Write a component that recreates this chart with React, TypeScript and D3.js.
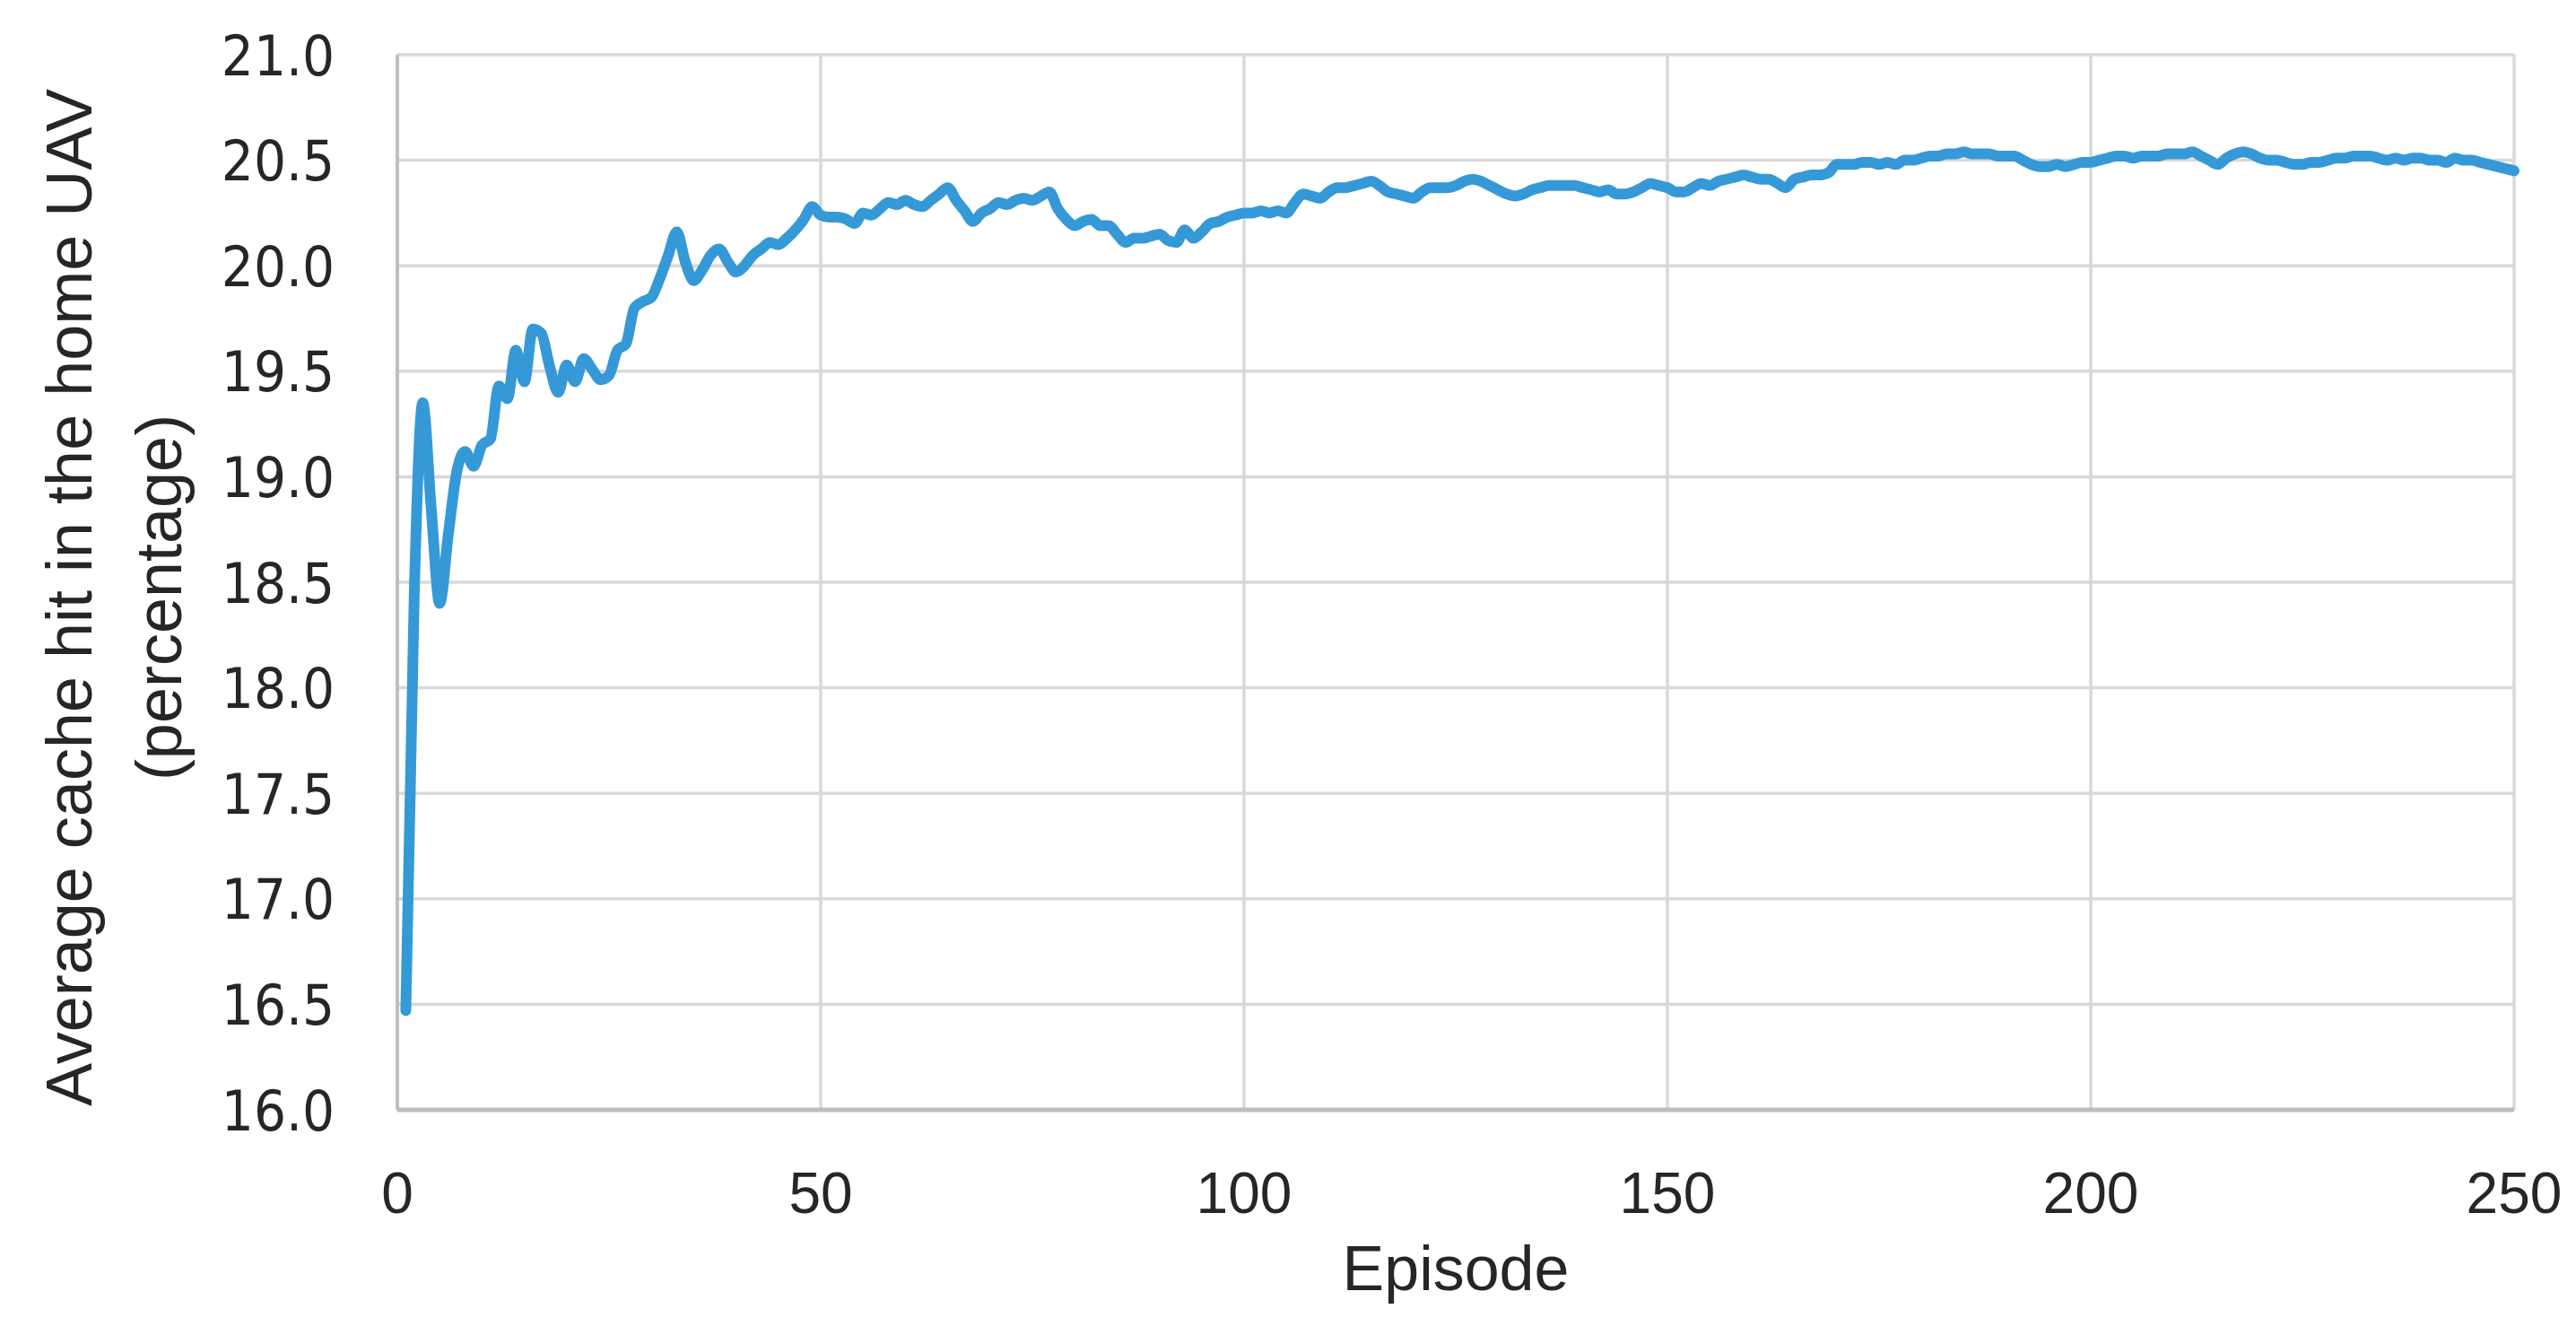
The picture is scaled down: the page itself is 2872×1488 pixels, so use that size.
import React from "react";
import * as d3 from "d3";

const episodes: number[] = Array.from({ length: 250 }, (_, i) => i + 1);

const cacheHit: number[] = [
  16.47, 18.45, 19.35, 18.85, 18.40, 18.72, 19.02, 19.12, 19.05, 19.15,
  19.18, 19.43, 19.37, 19.60, 19.45, 19.70, 19.68, 19.52, 19.40, 19.53,
  19.45, 19.56, 19.51, 19.46, 19.48, 19.60, 19.63, 19.80, 19.83, 19.85,
  19.94, 20.05, 20.16, 20.02, 19.93, 19.98, 20.05, 20.08, 20.02, 19.97,
  20.00, 20.05, 20.08, 20.11, 20.10, 20.13, 20.17, 20.22, 20.28, 20.24,
  20.23, 20.23, 20.22, 20.20, 20.25, 20.24, 20.27, 20.30, 20.29, 20.31,
  20.29, 20.28, 20.31, 20.34, 20.37, 20.31, 20.26, 20.21, 20.25, 20.27,
  20.30, 20.29, 20.31, 20.32, 20.31, 20.33, 20.35, 20.27, 20.22, 20.19,
  20.21, 20.22, 20.19, 20.19, 20.15, 20.11, 20.13, 20.13, 20.14, 20.15,
  20.12, 20.11, 20.17, 20.13, 20.16, 20.20, 20.21, 20.23, 20.24, 20.25,
  20.25, 20.26, 20.25, 20.26, 20.25, 20.30, 20.34, 20.33, 20.32, 20.35,
  20.37, 20.37, 20.38, 20.39, 20.40, 20.38, 20.35, 20.34, 20.33, 20.32,
  20.35, 20.37, 20.37, 20.37, 20.38, 20.40, 20.41, 20.40, 20.38, 20.36,
  20.34, 20.33, 20.34, 20.36, 20.37, 20.38, 20.38, 20.38, 20.38, 20.37,
  20.36, 20.35, 20.36, 20.34, 20.34, 20.35, 20.37, 20.39, 20.38, 20.37,
  20.35, 20.35, 20.37, 20.39, 20.38, 20.40, 20.41, 20.42, 20.43, 20.42,
  20.41, 20.41, 20.39, 20.37, 20.41, 20.42, 20.43, 20.43, 20.44, 20.48,
  20.48, 20.48, 20.49, 20.49, 20.48, 20.49, 20.48, 20.50, 20.50, 20.51,
  20.52, 20.52, 20.53, 20.53, 20.54, 20.53, 20.53, 20.53, 20.52, 20.52,
  20.52, 20.50, 20.48, 20.47, 20.47, 20.48, 20.47, 20.48, 20.49, 20.49,
  20.50, 20.51, 20.52, 20.52, 20.51, 20.52, 20.52, 20.52, 20.53, 20.53,
  20.53, 20.54, 20.52, 20.50, 20.48, 20.51, 20.53, 20.54, 20.53, 20.51,
  20.50, 20.50, 20.49, 20.48, 20.48, 20.49, 20.49, 20.50, 20.51, 20.51,
  20.52, 20.52, 20.52, 20.51, 20.50, 20.51, 20.50, 20.51, 20.51, 20.50,
  20.50, 20.49, 20.51, 20.50, 20.50, 20.49, 20.48, 20.47, 20.46, 20.45,
];

const xTicks: number[] = [0, 50, 100, 150, 200, 250];
const yTicks: number[] = [16.0, 16.5, 17.0, 17.5, 18.0, 18.5, 19.0, 19.5, 20.0, 20.5, 21.0];

const xTitle = "Episode";
const yTitleLine1 = "Average cache hit in the home UAV";
const yTitleLine2 = "(percentage)";

export default function App() {
  const W = 2872;
  const H = 1488;
  const left = 443;
  const right = 2803;
  const top = 61;
  const bottom = 1237;

  const x = d3.scaleLinear().domain([0, 250]).range([left, right]);
  const y = d3.scaleLinear().domain([16, 21]).range([bottom, top]);

  const data = episodes.map((e, i) => ({ e, v: cacheHit[i] }));
  const line = d3
    .line<{ e: number; v: number }>()
    .x((d) => x(d.e))
    .y((d) => y(d.v))
    .curve(d3.curveMonotoneX);

  const fmt = d3.format(".1f");
  const tickFont = "'Liberation Sans', Arial, sans-serif";
  const yTickFont = "'DejaVu Sans Condensed', 'Liberation Sans', sans-serif";
  const titleCenterY = (top + bottom) / 2 + 17;

  return (
    <svg
      width={W}
      height={H}
      viewBox={`0 0 ${W} ${H}`}
      style={{ position: "absolute", left: 0, top: 0, background: "#ffffff" }}
    >
      <rect x={0} y={0} width={W} height={H} fill="#ffffff" />
      {yTicks.filter((t) => t > 16).map((t) => (
        <line key={`hg${t}`} x1={left} x2={right} y1={y(t)} y2={y(t)} stroke="#d9d9d9" strokeWidth={3.5} />
      ))}
      {xTicks.filter((t) => t > 0).map((t) => (
        <line key={`vg${t}`} x1={x(t)} x2={x(t)} y1={top} y2={bottom} stroke="#d9d9d9" strokeWidth={3.5} />
      ))}
      <line x1={x(0)} x2={x(0)} y1={top} y2={bottom} stroke="#bfbfbf" strokeWidth={4} />
      <line x1={left} x2={right} y1={y(16)} y2={y(16)} stroke="#bcbcbc" strokeWidth={5} />

      <path d={line(data) || ""} fill="none" stroke="#3599d8" strokeWidth={12} strokeLinejoin="round" strokeLinecap="round" />

      {yTicks.map((t) => (
        <text
          key={`yt${t}`}
          x={373}
          y={y(t)}
          dy="0.36em"
          textAnchor="end"
          fontFamily={yTickFont}
          fontSize={63}
          fill="#262626"
        >
          {fmt(t)}
        </text>
      ))}

      {xTicks.map((t) => (
        <text
          key={`xt${t}`}
          x={x(t)}
          y={1352}
          textAnchor="middle"
          fontFamily={tickFont}
          fontSize={64}
          fill="#262626"
        >
          {t}
        </text>
      ))}

      <text x={(left + right) / 2} y={1438} textAnchor="middle" fontFamily={tickFont} fontSize={70} fill="#262626">
        {xTitle}
      </text>

      <g transform={`translate(102, ${titleCenterY}) rotate(-90)`}>
        <text x={0} y={0} textAnchor="middle" fontFamily={tickFont} fontSize={72} fill="#262626">
          {yTitleLine1}
        </text>
        <text x={0} y={100} textAnchor="middle" fontFamily={tickFont} fontSize={72} fill="#262626">
          {yTitleLine2}
        </text>
      </g>
    </svg>
  );
}
